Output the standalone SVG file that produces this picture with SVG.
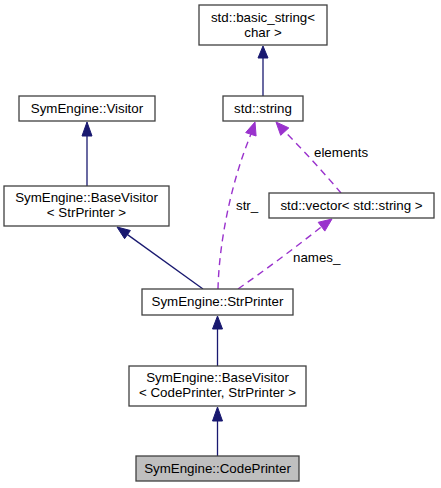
<svg xmlns="http://www.w3.org/2000/svg" width="441" height="488" viewBox="0 0 441 488">
<style>
.box{fill:#ffffff;stroke:#404040;stroke-width:1.3}
.cur{fill:#bfbfbf;stroke:#404040;stroke-width:1.3}
text{font-family:"Liberation Sans",Arial,sans-serif;font-size:13.33px;fill:#000;text-anchor:middle}
.lbl{text-anchor:start}
.inh{stroke:#191970;stroke-width:1.3;fill:none}
.inhh{fill:#191970;stroke:#191970;stroke-width:1}
.use{stroke:#9a32cd;stroke-width:1.4;fill:none;stroke-dasharray:7,5}
.useh{fill:#9a32cd;stroke:#9a32cd;stroke-width:1}
</style>
<rect width="441" height="488" fill="#ffffff"/>
<g id="connectors">
  <path class="inh" d="M263,96 L263,58"/>
  <polygon class="inhh" points="263,46 258,58 268,58"/>
  <path class="inh" d="M87,186 L87,136"/>
  <polygon class="inhh" points="87,122 82,136 92,136"/>
  <path class="inh" d="M203,289 L127.5,234.6"/>
  <polygon class="inhh" points="117,227 130.4,230.5 124.6,238.7"/>
  <path class="inh" d="M217.5,366 L217.5,329"/>
  <polygon class="inhh" points="217.5,316 212.5,329 222.5,329"/>
  <path class="inh" d="M217.5,456 L217.5,421"/>
  <polygon class="inhh" points="217.5,407 212.5,421 222.5,421"/>
  <path class="use" d="M218,289 C219,245 230,185 251,134"/>
  <polygon class="useh" points="255,122 256.1,136 245.7,132.6"/>
  <path class="use" d="M341,193 C325,174 304,151 284.8,131.6"/>
  <polygon class="useh" points="276,122 288.8,127.9 280.7,135.3"/>
  <path class="use" d="M238,289 C265,270 295,248 321.5,226.7"/>
  <polygon class="useh" points="332,219 324.8,231.1 318.2,222.3"/>
  <text class="lbl" x="236" y="210">str_</text>
  <text class="lbl" x="314" y="157">elements</text>
  <text class="lbl" x="293" y="262">names_</text>
</g>
<g id="node_basic_string">
  <rect class="box" x="199" y="5" width="128" height="40"/>
  <text x="263" y="22">std::basic_string&lt;</text>
  <text x="263" y="37">char &gt;</text>
</g>
<g id="node_string">
  <rect class="box" x="223" y="96" width="80" height="25"/>
  <text x="263" y="113">std::string</text>
</g>
<g id="node_visitor">
  <rect class="box" x="19" y="96" width="136" height="25"/>
  <text x="87" y="113">SymEngine::Visitor</text>
</g>
<g id="node_basevisitor_strprinter">
  <rect class="box" x="4" y="186" width="165" height="40"/>
  <text x="86.5" y="202">SymEngine::BaseVisitor</text>
  <text x="86.5" y="217">&lt; StrPrinter &gt;</text>
</g>
<g id="node_vector">
  <rect class="box" x="269" y="193" width="165" height="25"/>
  <text x="351.5" y="210">std::vector&lt; std::string &gt;</text>
</g>
<g id="node_strprinter">
  <rect class="box" x="142" y="289" width="151" height="26"/>
  <text x="217.5" y="306">SymEngine::StrPrinter</text>
</g>
<g id="node_basevisitor_codeprinter">
  <rect class="box" x="129" y="366" width="177" height="40"/>
  <text x="217.5" y="382">SymEngine::BaseVisitor</text>
  <text x="217.5" y="397">&lt; CodePrinter, StrPrinter &gt;</text>
</g>
<g id="node_codeprinter">
  <rect class="cur" x="136" y="456" width="163" height="25"/>
  <text x="217.5" y="473">SymEngine::CodePrinter</text>
</g>
</svg>
